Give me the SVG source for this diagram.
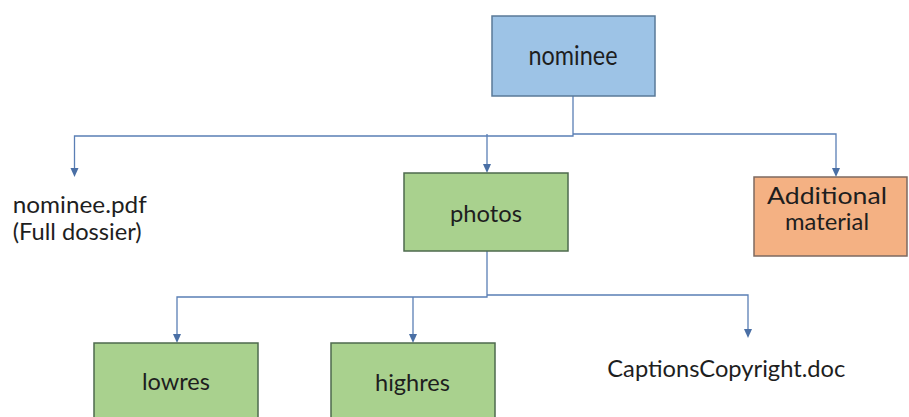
<svg xmlns="http://www.w3.org/2000/svg" width="909" height="417" viewBox="0 0 909 417">
  <defs>
    <style>
      .conn { fill: none; stroke: #5a7fb5; stroke-width: 1.3; }
      .arr { fill: #4a6fa5; }
      .box-blue { fill: #9dc3e6; stroke: #5a7a98; stroke-width: 1.5; }
      .box-green { fill: #a9d18e; stroke: #4e6a4e; stroke-width: 1.5; }
      .box-orange { fill: #f4b183; stroke: #7d6a60; stroke-width: 1.5; }
      .lbl { font-family: Lato, "Open Sans", "Liberation Sans", sans-serif; font-size: 24px; fill: #1e1e1e; }
      .two { font-size: 22.5px; }
      .mid { text-anchor: middle; }
    </style>
  </defs>
  <rect width="909" height="417" fill="#ffffff"/>

  <g id="connectors">
    <polyline class="conn" points="573,96 573,136 74.5,136 74.5,170"/>
    <polyline class="conn" points="573,134 836,134 836,170"/>
    <polyline class="conn" points="487,134 487,166"/>
    <path class="arr" d="M70.5,168 L78.5,168 L74.5,177 Z"/>
    <path class="arr" d="M483,164 L491,164 L487,173 Z"/>
    <path class="arr" d="M832,168 L840,168 L836,177 Z"/>
    <polyline class="conn" points="487,251 487,297 177,297 177,336"/>
    <polyline class="conn" points="487,295 748,295 748,331"/>
    <polyline class="conn" points="413,297 413,336"/>
    <path class="arr" d="M173,334 L181,334 L177,343 Z"/>
    <path class="arr" d="M409,334 L417,334 L413,343 Z"/>
    <path class="arr" d="M744,329 L752,329 L748,338 Z"/>
  </g>

  <g id="nominee">
    <rect class="box-blue" x="492" y="16" width="163" height="80"/>
    <text class="lbl mid" transform="translate(573,65) scale(1,1.15)" x="0" y="0" textLength="89" lengthAdjust="spacingAndGlyphs" fill="#1c2433">nominee</text>
  </g>

  <g id="nominee-pdf">
    <text class="lbl two" x="12.7" y="213" textLength="134" lengthAdjust="spacingAndGlyphs">nominee.pdf</text>
    <text class="lbl two" x="12.7" y="239.5" textLength="129" lengthAdjust="spacingAndGlyphs">(Full dossier)</text>
  </g>

  <g id="photos">
    <rect class="box-green" x="404" y="173" width="164" height="78"/>
    <text class="lbl mid" x="486" y="221.5" textLength="72" lengthAdjust="spacingAndGlyphs">photos</text>
  </g>

  <g id="additional">
    <rect class="box-orange" x="754" y="177" width="153" height="79"/>
    <text class="lbl two mid" x="827" y="203.5" textLength="120" lengthAdjust="spacingAndGlyphs">Additional</text>
    <text class="lbl two mid" x="827" y="230" textLength="84" lengthAdjust="spacingAndGlyphs">material</text>
  </g>

  <g id="lowres">
    <rect class="box-green" x="94" y="343" width="164" height="90"/>
    <text class="lbl mid" x="176" y="390" textLength="68" lengthAdjust="spacingAndGlyphs">lowres</text>
  </g>

  <g id="highres">
    <rect class="box-green" x="331" y="343" width="164" height="90"/>
    <text class="lbl mid" x="412.5" y="391" textLength="75" lengthAdjust="spacingAndGlyphs">highres</text>
  </g>

  <g id="captions">
    <text class="lbl" x="607.3" y="376.7" textLength="238" lengthAdjust="spacingAndGlyphs">CaptionsCopyright.doc</text>
  </g>
</svg>
